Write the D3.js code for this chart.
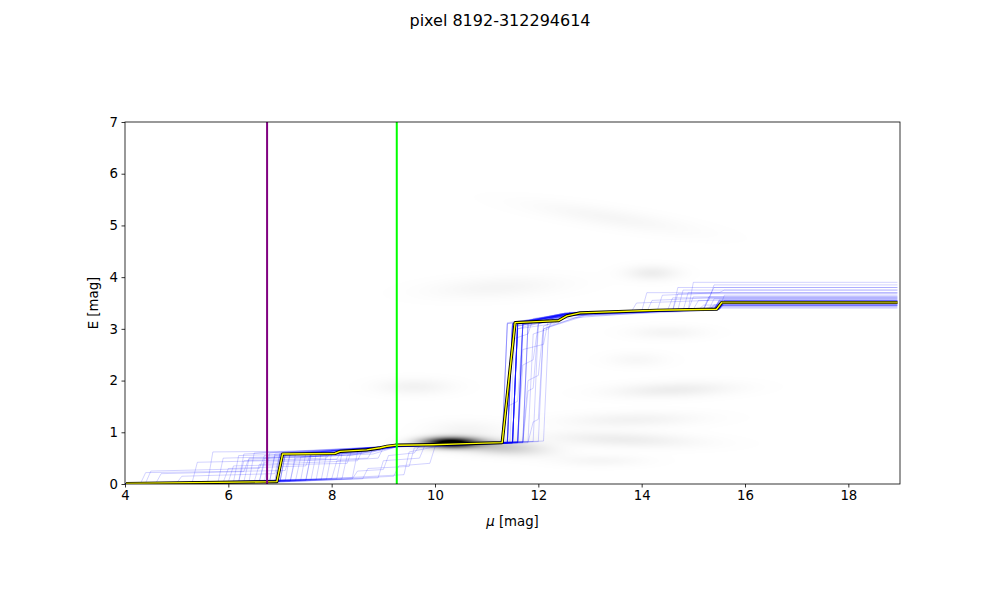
<!DOCTYPE html>
<html>
<head>
  <title>pixel 8192-312294614</title>
  <script src="https://d3js.org/d3.v7.min.js"></script>
  <style>
    body { margin: 0; background: #fff; }
    text { font-family: "DejaVu Sans", sans-serif; }
  </style>
</head>
<body>
  <div id="chart"></div>
  <script>
// Chart values
const titleText = "pixel 8192-312294614";
const xTicks = [4, 6, 8, 10, 12, 14, 16, 18];
const yTicks = [0, 1, 2, 3, 4, 5, 6, 7];
const xDomain = [4, 19];
const yDomain = [0, 7];

// vertical markers (mu)
const purpleMu = 6.75;
const greenMu = 9.26;

// best fit curve, [mu, E]
const bestFit = [
  [4.02, 0.01], [6.94, 0.045], [7.05, 0.58], [8.06, 0.59], [8.16, 0.63],
  [8.68, 0.66], [8.94, 0.70], [9.07, 0.73], [9.23, 0.75], [9.97, 0.76],
  [10.62, 0.78], [11.30, 0.80], [11.55, 3.12], [12.39, 3.16], [12.55, 3.25],
  [12.81, 3.31], [14.29, 3.36], [15.45, 3.38], [15.55, 3.51], [18.95, 3.51]
];
// the last plateau of the best fit looks darker (olive) in the picture
const bestFitDarkFrom = 15.55;

// sample curves, [mu, E]
const samples = [
  [[4,0],[4.4,0.02],[4.5,0.25],[6.6,0.3],[6.7,0.55],[8.1,0.6],[9.2,0.72],[11.4,0.8],[11.5,3.05],[12.5,3.2],[15.0,3.38],[15.1,3.55],[18.95,3.55]],
  [[4,0],[5.6,0.03],[5.7,0.62],[8.0,0.64],[9.3,0.74],[11.6,0.82],[11.7,3.1],[12.6,3.25],[14.6,3.35],[14.7,3.8],[18.95,3.8]],
  [[4,0],[7.2,0.06],[7.3,0.5],[8.4,0.6],[9.3,0.72],[11.3,0.78],[11.4,3.1],[12.5,3.3],[15.4,3.38],[15.5,3.48],[18.95,3.48]],
  [[4,0],[6.2,0.04],[6.3,0.45],[7.9,0.5],[8.0,0.65],[9.3,0.73],[11.7,0.8],[11.8,2.0],[12.0,2.1],[12.1,3.05],[12.7,3.3],[15.2,3.4],[15.3,3.62],[18.95,3.62]],
  [[4,0],[7.6,0.08],[7.7,0.58],[9.2,0.72],[11.5,0.79],[11.6,3.0],[12.3,3.1],[12.6,3.3],[14.3,3.35],[14.4,3.65],[15.5,3.7],[15.6,3.75],[18.95,3.75]],
  [[4,0],[5.0,0.02],[5.1,0.15],[6.9,0.2],[7.0,0.6],[8.9,0.68],[9.3,0.74],[11.9,0.82],[12.0,3.1],[12.8,3.3],[15.3,3.36],[15.4,3.45],[18.95,3.45]],
  [[4,0],[6.9,0.05],[7.0,0.58],[8.1,0.6],[9.2,0.74],[11.3,0.8],[11.4,1.5],[11.6,1.6],[11.7,3.1],[12.6,3.3],[15.5,3.4],[15.6,3.52],[18.95,3.52]],
  [[4,0],[8.2,0.1],[8.3,0.55],[9.3,0.72],[11.5,0.8],[11.6,3.15],[12.5,3.25],[14.9,3.36],[15.0,3.9],[18.95,3.9]],
  [[4,0],[6.5,0.04],[6.6,0.38],[8.5,0.45],[8.6,0.66],[9.3,0.74],[11.6,0.8],[11.7,2.6],[12.1,2.7],[12.2,3.2],[13.0,3.3],[15.2,3.38],[15.3,3.58],[18.95,3.58]],
  [[4,0],[7.0,0.05],[7.1,0.57],[9.2,0.73],[11.4,0.8],[11.5,3.1],[12.5,3.28],[15.4,3.37],[15.5,3.5],[18.95,3.5]],
  [[4,0],[5.8,0.03],[5.9,0.5],[7.8,0.55],[9.3,0.72],[11.8,0.8],[11.9,1.2],[12.0,1.25],[12.1,3.0],[12.9,3.28],[14.8,3.35],[14.9,3.7],[18.95,3.7]],
  [[4,0],[7.4,0.07],[7.5,0.6],[9.3,0.74],[11.4,0.8],[11.5,3.05],[12.4,3.15],[12.6,3.3],[15.3,3.38],[15.4,3.43],[18.95,3.43]],
  [[4,0],[6.0,0.04],[6.1,0.35],[8.3,0.4],[8.4,0.68],[9.3,0.74],[11.5,0.8],[11.6,3.1],[12.6,3.32],[14.5,3.36],[14.6,3.6],[18.95,3.6]],
  [[4,0],[7.9,0.09],[8.0,0.6],[9.2,0.73],[11.7,0.82],[11.8,3.1],[12.7,3.3],[15.4,3.38],[15.5,3.55],[18.95,3.55]],
  [[4,0],[6.8,0.05],[6.9,0.55],[8.7,0.6],[9.3,0.73],[11.3,0.79],[11.4,3.1],[12.5,3.25],[15.1,3.37],[15.2,3.46],[18.95,3.46]],
  [[4,0],[4.3,0.01],[4.4,0.22],[7.1,0.26],[7.2,0.58],[9.3,0.73],[11.6,0.8],[11.7,2.3],[11.9,2.4],[12.0,3.1],[12.8,3.3],[15.5,3.38],[15.6,3.65],[18.95,3.65]],
  [[4,0],[7.3,0.06],[7.4,0.52],[8.8,0.58],[9.3,0.73],[11.5,0.8],[11.6,3.05],[12.6,3.28],[13.8,3.33],[13.9,3.5],[15.3,3.55],[15.4,3.85],[18.95,3.85]],
  [[4,0],[6.4,0.04],[6.5,0.6],[9.2,0.73],[11.4,0.79],[11.5,3.1],[12.5,3.3],[15.5,3.38],[15.6,3.5],[18.95,3.5]],
  [[4,0],[8.0,0.1],[8.1,0.45],[8.9,0.5],[9.0,0.7],[9.3,0.73],[12.0,0.82],[12.1,3.0],[12.9,3.25],[15.2,3.35],[15.3,3.4],[18.95,3.4]],
  [[4,0],[6.7,0.05],[6.8,0.6],[9.3,0.74],[11.5,0.8],[11.6,3.1],[12.6,3.3],[15.4,3.37],[15.5,3.53],[18.95,3.53]],
  [[4,0],[5.3,0.03],[5.4,0.42],[8.1,0.48],[8.2,0.65],[9.3,0.73],[11.7,0.8],[11.8,1.8],[11.9,1.85],[12.0,3.1],[12.7,3.3],[14.7,3.36],[14.8,3.75],[18.95,3.75]],
  [[4,0],[7.5,0.07],[7.6,0.56],[9.3,0.73],[11.3,0.79],[11.4,3.12],[12.5,3.25],[15.3,3.37],[15.4,3.47],[18.95,3.47]],
  [[4,0],[6.9,0.05],[7.0,0.57],[9.3,0.74],[11.5,0.8],[11.6,3.1],[12.6,3.3],[15.5,3.38],[15.6,3.52],[18.95,3.52]],
  [[4,0],[7.7,0.08],[7.8,0.62],[9.3,0.74],[11.8,0.82],[11.9,2.9],[12.2,3.0],[12.3,3.25],[13.1,3.3],[14.9,3.36],[15.0,3.62],[18.95,3.62]],
  [[4,0],[6.1,0.04],[6.2,0.55],[8.6,0.62],[9.3,0.73],[11.4,0.8],[11.5,3.08],[12.5,3.28],[15.4,3.37],[15.5,3.45],[18.95,3.45]],
  [[4,0],[7.1,0.06],[7.2,0.6],[9.3,0.73],[11.6,0.81],[11.7,3.12],[12.6,3.3],[15.5,3.38],[15.6,3.55],[18.95,3.55]],
  [[4,0],[8.4,0.12],[8.5,0.62],[9.3,0.73],[11.5,0.8],[11.6,3.0],[12.5,3.28],[14.1,3.33],[14.2,3.55],[15.3,3.6],[15.4,3.8],[18.95,3.8]],
  [[4,0],[6.6,0.05],[6.7,0.5],[8.0,0.55],[9.3,0.73],[11.5,0.8],[11.6,3.1],[12.6,3.3],[15.4,3.38],[15.5,3.5],[18.95,3.5]],
  [[4,0],[7.0,0.05],[7.1,0.6],[9.3,0.74],[11.4,0.8],[11.5,3.1],[12.5,3.3],[15.5,3.38],[15.6,3.52],[18.95,3.52]],
  [[4,0],[5.9,0.03],[6.0,0.3],[7.5,0.35],[7.6,0.6],[9.3,0.73],[12.1,0.83],[12.2,3.05],[13.0,3.3],[15.2,3.37],[15.3,3.42],[18.95,3.42]],
  [[4,0],[6.3,0.04],[6.4,0.48],[8.2,0.55],[9.3,0.74],[11.6,0.81],[11.7,3.08],[12.6,3.28],[15.4,3.37],[15.5,3.49],[18.95,3.49]],
  [[4,0],[7.8,0.09],[7.9,0.58],[9.3,0.74],[11.4,0.8],[11.5,2.8],[11.8,2.9],[11.9,3.2],[12.7,3.3],[14.0,3.34],[14.1,3.7],[18.95,3.7]],
  [[4,0],[6.95,0.05],[7.05,0.56],[8.1,0.58],[9.25,0.74],[11.45,0.8],[11.55,3.1],[12.5,3.27],[15.45,3.38],[15.55,3.5],[18.95,3.5]],
  [[4,0],[7.2,0.06],[7.3,0.59],[9.3,0.74],[11.5,0.8],[11.6,3.12],[12.6,3.3],[15.4,3.38],[15.5,3.56],[18.95,3.56]],
  [[4,0],[6.6,0.05],[6.7,0.42],[8.7,0.5],[8.8,0.68],[9.3,0.73],[11.6,0.8],[11.7,3.1],[12.6,3.3],[15.5,3.37],[15.6,3.47],[18.95,3.47]],
  [[4,0],[7.5,0.07],[7.6,0.6],[9.3,0.74],[11.5,0.8],[11.6,3.08],[12.5,3.28],[15.2,3.37],[15.3,3.6],[18.95,3.6]],
  [[4,0],[6.8,0.05],[6.9,0.58],[9.3,0.74],[11.4,0.8],[11.5,3.1],[12.5,3.3],[15.5,3.38],[15.6,3.51],[18.95,3.51]],
  [[4,0],[8.1,0.1],[8.2,0.6],[9.3,0.73],[11.7,0.81],[11.8,3.05],[12.7,3.3],[15.4,3.37],[15.5,3.45],[18.95,3.45]],
  [[4,0],[7.0,0.05],[7.1,0.55],[9.3,0.74],[11.5,0.8],[11.6,3.1],[12.6,3.3],[15.4,3.38],[15.5,3.54],[18.95,3.54]],
  [[4,0],[6.2,0.04],[6.3,0.58],[9.3,0.73],[11.6,0.8],[11.7,3.1],[12.6,3.29],[14.6,3.35],[14.7,3.68],[18.95,3.68]],
  [[4,0],[7.0,0.04],[8.9,0.12],[9.0,0.45],[9.7,0.5],[9.8,0.74],[11.5,0.8],[11.6,3.1],[12.6,3.3],[15.4,3.38],[15.5,3.52],[18.95,3.52]],
  [[4,0],[6.8,0.03],[9.2,0.15],[9.3,0.35],[9.9,0.4],[10.0,0.72],[11.6,0.8],[11.7,3.08],[12.6,3.28],[15.5,3.38],[15.6,3.5],[18.95,3.5]],
  [[4,0],[7.2,0.05],[8.6,0.1],[8.7,0.3],[9.5,0.34],[9.6,0.7],[11.4,0.8],[11.5,3.1],[12.5,3.3],[15.3,3.37],[15.4,3.58],[18.95,3.58]],
  [[4,0],[6.5,0.03],[9.4,0.18],[9.5,0.62],[10.1,0.74],[11.7,0.81],[11.8,3.1],[12.7,3.3],[15.4,3.38],[15.5,3.46],[18.95,3.46]],
  [[4,0],[7.4,0.06],[8.4,0.1],[8.5,0.25],[9.0,0.28],[9.1,0.55],[9.6,0.6],[9.7,0.74],[11.5,0.8],[11.6,3.12],[12.6,3.3],[15.5,3.38],[15.6,3.55],[18.95,3.55]],
  [[4,0],[4.6,0.02],[4.7,0.2],[6.3,0.24],[6.4,0.5],[8.4,0.56],[9.3,0.73],[11.5,0.8],[11.6,3.1],[12.6,3.3],[15.4,3.38],[15.5,3.5],[18.95,3.5]]
];

// background density blobs: mu, E, spread in mu, spread in E, weight, tilt
const blobMu    = [10.3, 11.2, 10.6, 9.6, 11.2, 14.2, 13.4, 14.5, 14.6, 13.8, 13.6, 13.2, 13.9];
const blobE     = [0.80, 0.72, 1.05, 1.88, 3.80, 4.08, 5.15, 2.93, 1.82, 1.24, 0.86, 0.45, 2.40];
const blobSMu   = [0.36, 0.60, 0.50, 0.50, 0.90, 0.35, 1.10, 0.50, 0.80, 0.90, 1.00, 0.60, 0.40];
const blobSE    = [0.07, 0.10, 0.12, 0.11, 0.14, 0.10, 0.13, 0.09, 0.10, 0.10, 0.10, 0.08, 0.10];
const blobW     = [1.10, 0.22, 0.04, 0.05, 0.04, 0.07, 0.035, 0.04, 0.07, 0.05, 0.07, 0.035, 0.03];
const blobTilt  = [0.00, -0.06, 0.0, 0.0, 0.05, 0.0, -0.15, 0.0, 0.03, 0.02, -0.03, 0.0, 0.0];

const W = 1000, H = 600;
const margin = { top: 122, right: 100, bottom: 116, left: 125 };
const width = W - margin.left - margin.right;
const height = H - margin.top - margin.bottom;

const svgRoot = d3.select("#chart").append("svg")
  .attr("width", W).attr("height", H);

svgRoot.append("text")
  .attr("x", W / 2).attr("y", 26)
  .attr("text-anchor", "middle")
  .style("font-size", "16px")
  .text(titleText);

const svg = svgRoot.append("g")
  .attr("transform", `translate(${margin.left},${margin.top})`);

svg.append("clipPath").attr("id", "clip")
  .append("rect").attr("width", width).attr("height", height);

const x = d3.scaleLinear().domain(xDomain).range([0, width]);
const y = d3.scaleLinear().domain(yDomain).range([height, 0]);

// density image
const canvas = document.createElement("canvas");
canvas.width = width; canvas.height = height;
const ctx = canvas.getContext("2d");
const img = ctx.createImageData(width, height);
for (let py = 0; py < height; py++) {
  const e = y.invert(py + 0.5);
  for (let px = 0; px < width; px++) {
    const m = x.invert(px + 0.5);
    let d = 0;
    for (let i = 0; i < blobMu.length; i++) {
      const dm = (m - blobMu[i]) / blobSMu[i];
      const de = (e - blobE[i] - blobTilt[i] * (m - blobMu[i])) / blobSE[i];
      d += blobW[i] * Math.exp(-0.5 * (dm * dm + de * de));
    }
    const v = Math.round(255 * (1 - Math.min(1, d)));
    const k = (py * width + px) * 4;
    img.data[k] = v; img.data[k + 1] = v; img.data[k + 2] = v; img.data[k + 3] = 255;
  }
}
ctx.putImageData(img, 0, 0);
svg.append("image")
  .attr("width", width).attr("height", height)
  .attr("href", canvas.toDataURL());

const plot = svg.append("g").attr("clip-path", "url(#clip)");
const line = d3.line().x(d => x(d[0])).y(d => y(d[1]));

// sample curves
plot.selectAll(".sample")
  .data(samples)
  .enter()
  .append("path")
  .attr("class", "sample")
  .attr("d", line)
  .attr("fill", "none")
  .attr("stroke", "blue")
  .attr("stroke-opacity", 0.2)
  .attr("stroke-width", 0.9);

// best fit: black edge, yellow core
plot.append("path").datum(bestFit)
  .attr("d", line).attr("fill", "none")
  .attr("stroke", "black").attr("stroke-width", 3.2)
  .attr("stroke-linejoin", "round");
plot.append("path").datum(bestFit)
  .attr("d", line).attr("fill", "none")
  .attr("stroke", "yellow").attr("stroke-width", 1.4)
  .attr("stroke-linejoin", "round");
plot.append("path").datum(bestFit.filter(d => d[0] >= bestFitDarkFrom))
  .attr("d", line).attr("fill", "none")
  .attr("stroke", "#9c9a10").attr("stroke-width", 1.6);

// vertical markers
plot.append("line")
  .attr("x1", x(purpleMu)).attr("x2", x(purpleMu))
  .attr("y1", 0).attr("y2", height)
  .attr("stroke", "purple").attr("stroke-width", 2);
plot.append("line")
  .attr("x1", x(greenMu)).attr("x2", x(greenMu))
  .attr("y1", 0).attr("y2", height)
  .attr("stroke", "lime").attr("stroke-width", 2);

// axes
const xAxis = svg.append("g")
  .attr("transform", `translate(0,${height})`)
  .call(d3.axisBottom(x).tickValues(xTicks).tickFormat(d3.format("d")).tickSize(3.5).tickPadding(3.5));
const yAxis = svg.append("g")
  .call(d3.axisLeft(y).tickValues(yTicks).tickFormat(d3.format("d")).tickSize(3.5).tickPadding(3.5));
[xAxis, yAxis].forEach(a => {
  a.selectAll("text").style("font-size", "13.3px").attr("fill", "black")
    .style("font-family", "DejaVu Sans, sans-serif");
  a.selectAll("line").attr("stroke", "black").attr("stroke-width", 0.8);
  a.select(".domain").remove();
});

// frame
svg.append("rect")
  .attr("width", width).attr("height", height)
  .attr("fill", "none").attr("stroke", "black").attr("stroke-width", 0.8);

// axis labels
const xl = svgRoot.append("text")
  .attr("x", margin.left + width / 2).attr("y", 526)
  .attr("text-anchor", "middle")
  .style("font-size", "13.3px");
xl.append("tspan").style("font-style", "italic").text("\u03bc");
xl.append("tspan").text(" [mag]");

svgRoot.append("text")
  .attr("transform", `translate(98,${margin.top + height / 2}) rotate(-90)`)
  .attr("text-anchor", "middle")
  .style("font-size", "13.3px")
  .text("E [mag]");
  </script>
</body>
</html>
